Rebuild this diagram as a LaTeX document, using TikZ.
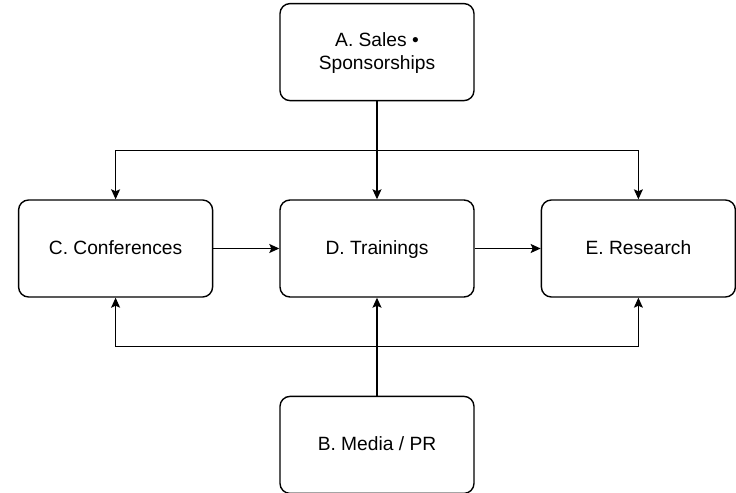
\documentclass[tikz,border=0pt]{standalone}
\usepackage{fontspec}
\setmainfont{Liberation Sans}
\usepackage{tikz}
\usetikzlibrary{positioning, calc, arrows.meta}

\begin{document}
\begin{tikzpicture}[
    node distance=49pt and 33pt,
    box/.style={rectangle, draw, line width=0.7pt, rounded corners=5pt, minimum height=48.5pt, minimum width=97pt, align=center, text depth=0.25ex, font=\fontsize{9.6}{11.5}\selectfont},
    arrow/.style={-{Stealth[length=5pt, width=4.5pt, inset=1pt]}, line width=0.6pt}
]
\useasboundingbox (-188.5pt,-122.25pt) rectangle (179.5pt,124.25pt);
% Boxes
\node[box] (train) {D. Trainings};
\node[box, left=of train] (conf) {C. Conferences};
\node[box, right=of train] (research) {E. Research};
\node[box, above=of train] (sales) {A. Sales \textbullet\\Sponsorships};
\node[box, below=of train] (media) {B. Media / PR};

% Split points
\coordinate (split) at ($(sales.south)!0.5!(train.north)$);
\coordinate (join) at ($(media.north)!0.5!(train.south)$);

% Arrows from A
\draw[arrow] (sales) -- (train);
\draw[arrow] (split) -| (conf.north);
\draw[arrow] (split) -| (research.north);

% Arrows from B
\draw[arrow] (media) -- (train);
\draw[arrow] (join) -| (conf.south);
\draw[arrow] (join) -| (research.south);

% Middle row
\draw[arrow] (conf) -- (train);
\draw[arrow] (train) -- (research);
\end{tikzpicture}
\end{document}
